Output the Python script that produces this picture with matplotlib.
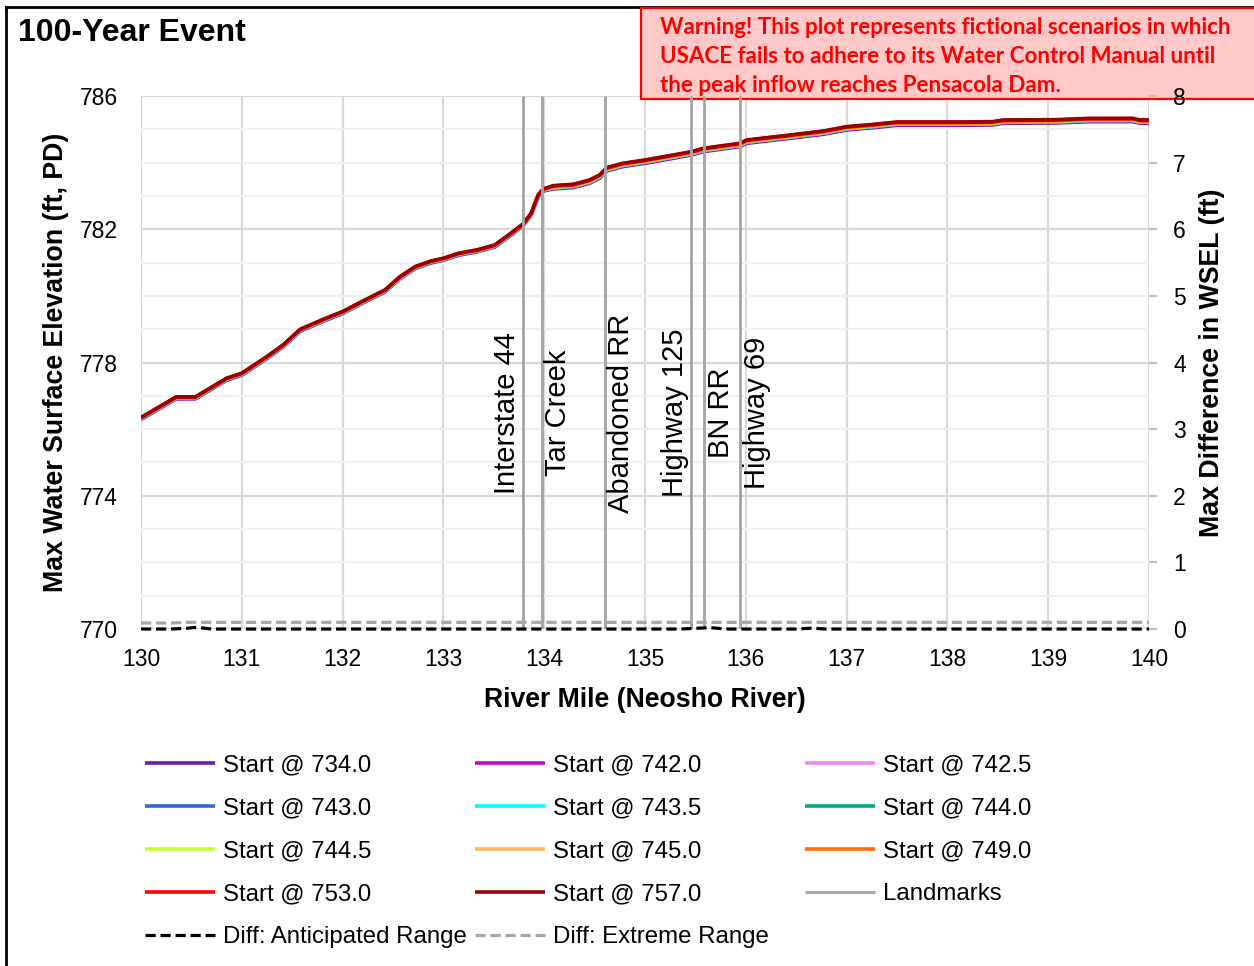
import matplotlib
matplotlib.use("Agg")
import matplotlib.pyplot as plt
from matplotlib.patches import Rectangle
from matplotlib.lines import Line2D

plt.rcParams['font.family'] = ['Liberation Sans', 'DejaVu Sans']

# River mile stations along the Neosho River
river_mile = [130.00, 130.35, 130.54, 130.85, 131.00, 131.25, 131.41, 131.58, 131.81, 132.00,
              132.21, 132.42, 132.57, 132.72, 132.88, 133.00, 133.15, 133.33, 133.51, 133.66,
              133.79, 133.87, 133.94, 133.99, 134.09, 134.29, 134.45, 134.55, 134.62, 134.78,
              135.00, 135.28, 135.46, 135.58, 135.94, 136.01, 136.44, 136.77, 137.00, 137.27,
              137.50, 138.12, 138.45, 138.55, 139.08, 139.41, 139.84, 139.91, 140.00]

# Max water surface elevation (ft, PD) for each starting pool elevation
wsel_734_0 = [776.29, 776.91, 776.91, 777.47, 777.62, 778.12, 778.47, 778.94, 779.24, 779.47,
              779.80, 780.12, 780.52, 780.82, 780.99, 781.07, 781.22, 781.32, 781.47, 781.80,
              782.10, 782.42, 782.97, 783.15, 783.21, 783.25, 783.38, 783.53, 783.75, 783.88,
              783.98, 784.13, 784.23, 784.33, 784.48, 784.58, 784.73, 784.85, 784.98, 785.05,
              785.12, 785.12, 785.13, 785.18, 785.19, 785.23, 785.23, 785.18, 785.18]
wsel_742_0 = [776.30, 776.92, 776.92, 777.48, 777.63, 778.13, 778.48, 778.95, 779.25, 779.48,
              779.81, 780.13, 780.53, 780.83, 781.00, 781.08, 781.23, 781.33, 781.48, 781.81,
              782.11, 782.43, 782.98, 783.16, 783.24, 783.28, 783.41, 783.56, 783.78, 783.91,
              784.01, 784.16, 784.26, 784.36, 784.51, 784.61, 784.76, 784.88, 785.01, 785.08,
              785.15, 785.15, 785.16, 785.21, 785.22, 785.26, 785.26, 785.21, 785.21]
wsel_742_5 = [776.31, 776.93, 776.93, 777.49, 777.64, 778.14, 778.49, 778.96, 779.26, 779.49,
              779.82, 780.14, 780.54, 780.84, 781.01, 781.09, 781.24, 781.34, 781.49, 781.82,
              782.12, 782.44, 782.99, 783.17, 783.24, 783.28, 783.41, 783.56, 783.78, 783.91,
              784.01, 784.16, 784.26, 784.36, 784.51, 784.61, 784.76, 784.88, 785.01, 785.08,
              785.15, 785.15, 785.16, 785.21, 785.22, 785.26, 785.26, 785.21, 785.21]
wsel_743_0 = [776.31, 776.93, 776.93, 777.49, 777.64, 778.14, 778.49, 778.96, 779.26, 779.49,
              779.82, 780.14, 780.54, 780.84, 781.01, 781.09, 781.24, 781.34, 781.49, 781.82,
              782.12, 782.44, 782.99, 783.17, 783.25, 783.29, 783.42, 783.57, 783.79, 783.92,
              784.02, 784.17, 784.27, 784.37, 784.52, 784.62, 784.77, 784.89, 785.02, 785.09,
              785.16, 785.16, 785.17, 785.22, 785.23, 785.27, 785.27, 785.22, 785.22]
wsel_743_5 = [776.32, 776.94, 776.94, 777.50, 777.65, 778.15, 778.50, 778.97, 779.27, 779.50,
              779.83, 780.15, 780.55, 780.85, 781.02, 781.10, 781.25, 781.35, 781.50, 781.83,
              782.13, 782.45, 783.00, 783.18, 783.25, 783.29, 783.42, 783.57, 783.79, 783.92,
              784.02, 784.17, 784.27, 784.37, 784.52, 784.62, 784.77, 784.89, 785.02, 785.09,
              785.16, 785.16, 785.17, 785.22, 785.23, 785.27, 785.27, 785.22, 785.22]
wsel_744_0 = [776.32, 776.94, 776.94, 777.50, 777.65, 778.15, 778.50, 778.97, 779.27, 779.50,
              779.83, 780.15, 780.55, 780.85, 781.02, 781.10, 781.25, 781.35, 781.50, 781.83,
              782.13, 782.45, 783.00, 783.18, 783.26, 783.30, 783.43, 783.58, 783.80, 783.93,
              784.03, 784.18, 784.28, 784.38, 784.53, 784.63, 784.78, 784.90, 785.03, 785.10,
              785.17, 785.17, 785.18, 785.23, 785.24, 785.28, 785.28, 785.23, 785.23]
wsel_744_5 = [776.33, 776.95, 776.95, 777.51, 777.66, 778.16, 778.51, 778.98, 779.28, 779.51,
              779.84, 780.16, 780.56, 780.86, 781.03, 781.11, 781.26, 781.36, 781.51, 781.84,
              782.14, 782.46, 783.01, 783.19, 783.26, 783.30, 783.43, 783.58, 783.80, 783.93,
              784.03, 784.18, 784.28, 784.38, 784.53, 784.63, 784.78, 784.90, 785.03, 785.10,
              785.17, 785.17, 785.18, 785.23, 785.24, 785.28, 785.28, 785.23, 785.23]
wsel_745_0 = [776.33, 776.95, 776.95, 777.51, 777.66, 778.16, 778.51, 778.98, 779.28, 779.51,
              779.84, 780.16, 780.56, 780.86, 781.03, 781.11, 781.26, 781.36, 781.51, 781.84,
              782.14, 782.46, 783.01, 783.19, 783.27, 783.31, 783.44, 783.59, 783.81, 783.94,
              784.04, 784.19, 784.29, 784.39, 784.54, 784.64, 784.79, 784.91, 785.04, 785.11,
              785.18, 785.18, 785.19, 785.24, 785.25, 785.29, 785.29, 785.24, 785.24]
wsel_749_0 = [776.34, 776.96, 776.96, 777.52, 777.67, 778.17, 778.52, 778.99, 779.29, 779.52,
              779.85, 780.17, 780.57, 780.87, 781.04, 781.12, 781.27, 781.37, 781.52, 781.85,
              782.15, 782.47, 783.02, 783.20, 783.28, 783.32, 783.45, 783.60, 783.82, 783.95,
              784.05, 784.20, 784.30, 784.40, 784.55, 784.65, 784.80, 784.92, 785.05, 785.12,
              785.19, 785.19, 785.20, 785.25, 785.26, 785.30, 785.30, 785.25, 785.25]
wsel_753_0 = [776.34, 776.96, 776.96, 777.52, 777.67, 778.17, 778.52, 778.99, 779.29, 779.52,
              779.85, 780.17, 780.57, 780.87, 781.04, 781.12, 781.27, 781.37, 781.52, 781.85,
              782.15, 782.47, 783.02, 783.20, 783.30, 783.34, 783.47, 783.62, 783.84, 783.97,
              784.07, 784.22, 784.32, 784.42, 784.57, 784.67, 784.82, 784.94, 785.07, 785.14,
              785.21, 785.21, 785.22, 785.27, 785.28, 785.32, 785.32, 785.27, 785.27]
wsel_757_0 = [776.35, 776.97, 776.97, 777.53, 777.68, 778.18, 778.53, 779.00, 779.30, 779.53,
              779.86, 780.18, 780.58, 780.88, 781.05, 781.13, 781.28, 781.38, 781.53, 781.86,
              782.16, 782.48, 783.03, 783.21, 783.31, 783.35, 783.48, 783.63, 783.85, 783.98,
              784.08, 784.23, 784.33, 784.43, 784.58, 784.68, 784.83, 784.95, 785.08, 785.15,
              785.22, 785.22, 785.23, 785.28, 785.29, 785.33, 785.33, 785.28, 785.28]

scenarios = [
    ("Start @ 734.0", wsel_734_0, "#6A1BA8"),
    ("Start @ 742.0", wsel_742_0, "#CC00CC"),
    ("Start @ 742.5", wsel_742_5, "#EE88EE"),
    ("Start @ 743.0", wsel_743_0, "#2E6AD0"),
    ("Start @ 743.5", wsel_743_5, "#00FFFF"),
    ("Start @ 744.0", wsel_744_0, "#00AD8C"),
    ("Start @ 744.5", wsel_744_5, "#C4FF33"),
    ("Start @ 745.0", wsel_745_0, "#FFB85C"),
    ("Start @ 749.0", wsel_749_0, "#FF6A0D"),
    ("Start @ 753.0", wsel_753_0, "#FF0000"),
    ("Start @ 757.0", wsel_757_0, "#9C0000"),
]

# Landmarks (bridges / crossings)
landmark_names = ["Interstate 44", "Tar Creek", "Abandoned RR", "Highway 125", "BN RR", "Highway 69"]
landmark_mile = [133.79, 133.975, 134.60, 135.46, 135.585, 135.94]
landmark_side = ["left", "right", "right", "left", "right", "right"]

# Max difference in WSEL (ft) between scenarios
diff_mile = [130.0, 130.3, 130.45, 130.55, 130.7, 131.0, 132.0, 133.0, 134.0, 135.0, 135.35,
             135.5, 135.65, 135.8, 136.0, 136.5, 136.65, 136.8, 137.0, 138.0, 139.0, 140.0]
diff_anticipated = [0.0, 0.0, 0.01, 0.025, 0.0, 0.0, 0.0, 0.0, 0.0, 0.0, 0.0,
                    0.01, 0.02, 0.0, 0.0, 0.0, 0.012, 0.0, 0.0, 0.0, 0.0, 0.0]
diff_extreme = [0.09, 0.09, 0.10, 0.10, 0.10, 0.10, 0.10, 0.10, 0.10, 0.10, 0.10,
                0.10, 0.10, 0.10, 0.10, 0.10, 0.10, 0.10, 0.10, 0.10, 0.10, 0.10]

W, H = 1254, 966
fig = plt.figure(figsize=(W / 100, H / 100), dpi=100)
ax = fig.add_axes([141 / W, 1 - 629 / H, (1149 - 141) / W, (629 - 96) / H])
ax2 = ax.twinx()
ax2.set_zorder(6)

lines = {}
for name, vals, color in scenarios:
    lines[name], = ax.plot(river_mile, vals, color=color, lw=2.6, solid_capstyle='butt', label=name)

ax.set_xlim(130, 140)
ax.set_ylim(770, 786)
ax.set_xticks(range(130, 141))
ax.set_yticks([770, 774, 778, 782, 786])
ax.set_yticks(range(770, 787), minor=True)
ax.grid(which='major', color='#D9D9D9', lw=1.6)
ax.grid(which='minor', axis='y', color='#F0F0F0', lw=1.6)
ax.set_axisbelow(True)
for sp in ax.spines.values():
    sp.set_visible(False)
ax.tick_params(axis='x', length=0, pad=13.5, labelsize=16.5)
ax.tick_params(axis='y', which='both', length=0, pad=16.5, labelsize=16.5)
ax.set_xlabel("River Mile (Neosho River)", fontsize=19.2, fontweight='bold', labelpad=12)
ax.set_ylabel("Max Water Surface Elevation (ft, PD)", fontsize=19.3, fontweight='bold', labelpad=8)

# secondary axis: landmarks and max differences
ax2.set_ylim(0, 8)
ax2.set_yticks(range(0, 9))
for sp in ax2.spines.values():
    sp.set_visible(False)
ax2.tick_params(axis='y', length=6, width=1.5, color='#BFBFBF', pad=11.5, labelsize=16.5)
ax2.set_ylabel("Max Difference in WSEL (ft)", fontsize=19.3, fontweight='bold', labelpad=9)

for name, mile, side in zip(landmark_names, landmark_mile, landmark_side):
    lm, = ax2.plot([mile, mile], [0, 8], color='#A6A6A6', lw=2.1, solid_capstyle='butt')
    dx = -1.5 if side == "left" else 2
    ax2.annotate(name, xy=(mile, 3.24), xytext=(dx, 0), textcoords='offset points',
                 rotation=90, ha='right' if side == "left" else 'left', va='center',
                 fontsize=21)
lines["Landmarks"] = lm

lines["Diff: Anticipated Range"], = ax2.plot(diff_mile, diff_anticipated, color='black', lw=2.3,
                                             ls=(0, (3.2, 1.5)), clip_on=False)
lines["Diff: Extreme Range"], = ax2.plot(diff_mile, diff_extreme, color='#A6A6A6', lw=2.3,
                                         ls=(0, (3.2, 1.5)), clip_on=False)

# legend laid out in three fixed columns
columns = [
    ["Start @ 734.0", "Start @ 743.0", "Start @ 744.5", "Start @ 753.0", "Diff: Anticipated Range"],
    ["Start @ 742.0", "Start @ 743.5", "Start @ 745.0", "Start @ 757.0", "Diff: Extreme Range"],
    ["Start @ 742.5", "Start @ 744.0", "Start @ 749.0", "Landmarks"],
]
for col_x, names in zip([145, 475, 805], columns):
    fig.legend(handles=[lines[n] for n in names], labels=names, loc='upper left',
               bbox_to_anchor=(col_x / W, 1 - 754 / H), frameon=False, fontsize=17.3,
               handlelength=2.92, handletextpad=0.33, labelspacing=0.875,
               borderpad=0, borderaxespad=0)

fig.text(18 / W, 1 - 41 / H, "100-Year Event", fontsize=23, fontweight='bold',
         ha='left', va='baseline')

# warning banner
fig.add_artist(Rectangle((641 / W, 1 - 99 / H), 0.6, 91 / H, transform=fig.transFigure,
                         facecolor='#FFC9C9', edgecolor='#FF0000', lw=1.6, zorder=5))
warning = ["Warning! This plot represents fictional scenarios in which",
           "USACE fails to adhere to its Water Control Manual until",
           "the peak inflow reaches Pensacola Dam."]
for i, line in enumerate(warning):
    fig.text(660 / W, 1 - (27 + 29.5 * i) / H, line, family='Lato', fontweight='bold',
             fontsize=16.1, color='#FF0000', ha='left', va='center', zorder=6)

# outer frame
fig.add_artist(Line2D([6 / W, 6 / W], [0, 1 - 7 / H], color='black', lw=2, transform=fig.transFigure))
fig.add_artist(Line2D([6 / W, 1], [1 - 7 / H, 1 - 7 / H], color='black', lw=2, transform=fig.transFigure))

fig.savefig("out.png", dpi=100)
